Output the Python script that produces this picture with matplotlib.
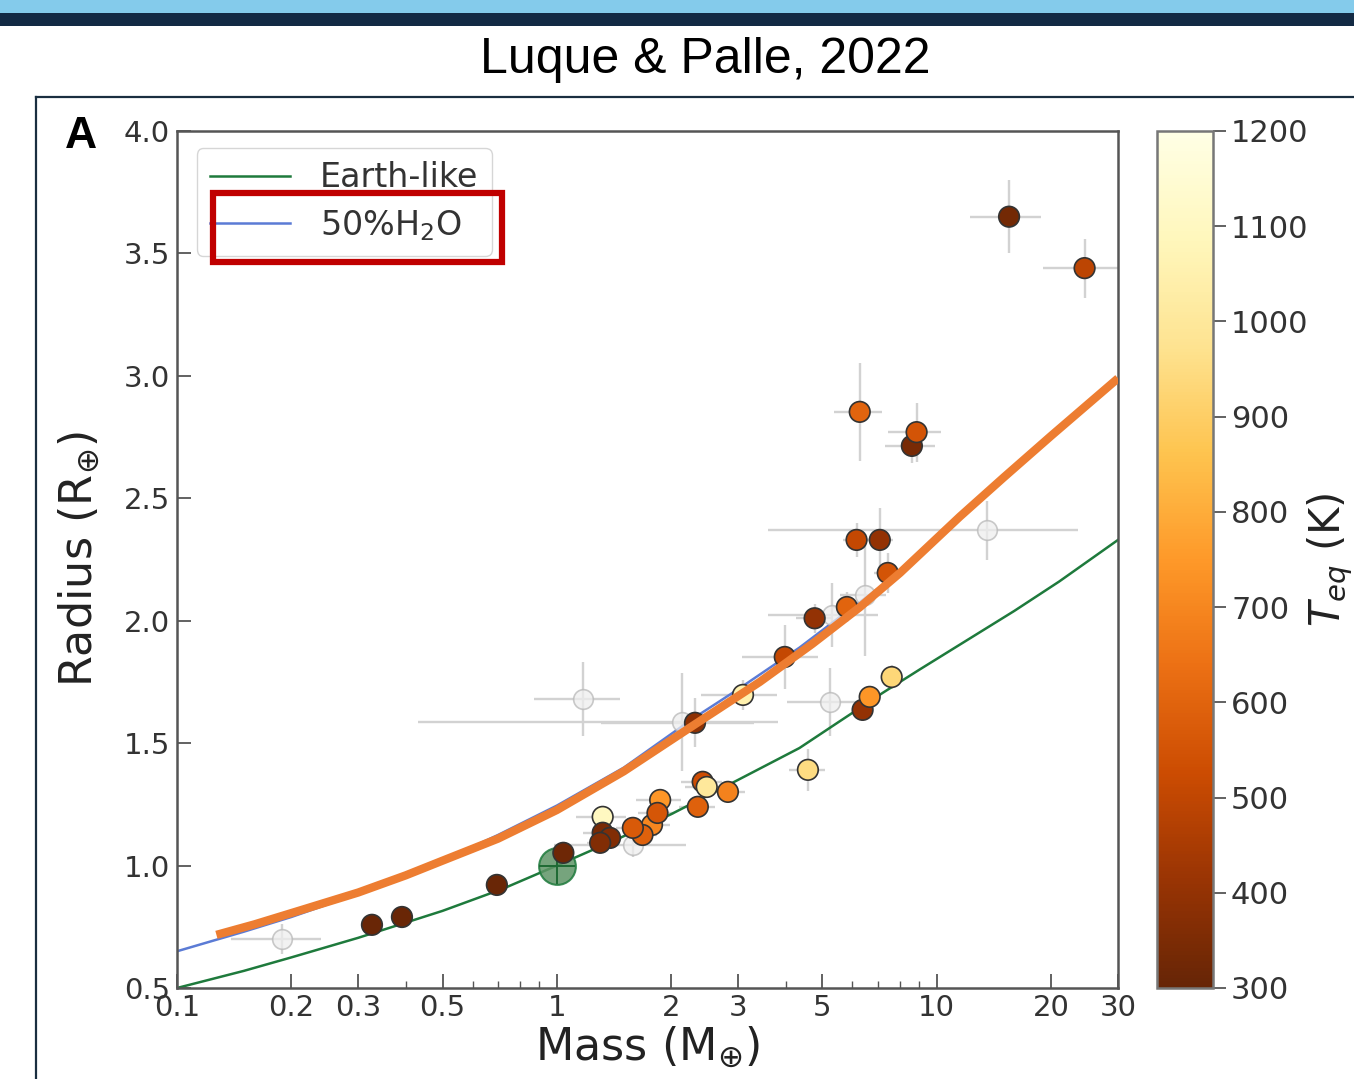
import matplotlib
matplotlib.use('Agg')
import matplotlib.pyplot as plt
import numpy as np
from matplotlib.lines import Line2D
from matplotlib.patches import Rectangle
from matplotlib.ticker import FixedLocator, NullFormatter

plt.rcParams['font.family'] = ['DejaVu Sans']
plt.rcParams['mathtext.fontset'] = 'dejavusans'

# planets with a measured Teq (mass, radius in Earth units)
mass_c = [15.5, 24.5, 6.27, 8.6, 8.85, 6.15, 7.08, 7.43, 5.80, 4.77, 3.98, 3.09,
          6.38, 6.66, 7.61, 4.58, 2.31, 2.42, 2.48, 2.82, 2.35, 1.87, 1.78, 1.84,
          1.68, 1.585, 1.32, 1.32, 1.38, 1.30, 1.04, 0.695, 0.391, 0.326]
rad_c = [3.65, 3.44, 2.853, 2.714, 2.77, 2.33, 2.33, 2.195, 2.056, 2.01, 1.852, 1.697,
         1.636, 1.689, 1.77, 1.391, 1.583, 1.342, 1.321, 1.301, 1.24, 1.268, 1.166, 1.215,
         1.125, 1.154, 1.199, 1.134, 1.113, 1.093, 1.052, 0.921, 0.79, 0.758]
teq_c = [330, 490, 600, 340, 550, 510, 400, 550, 600, 400, 510, 1050,
         400, 740, 930, 950, 390, 530, 1000, 690, 590, 740, 700, 560,
         590, 570, 1100, 340, 360, 360, 320, 310, 310, 310]
merr_c = [3.3, 5.5, 0.9, 1.3, 1.4, 0.5, 0.6, 0.6, 0.5, 0.5, 0.9, 0.7,
          0.3, 0.3, 0.4, 0.5, 1.0, 0.3, 0.3, 0.3, 0.25, 0.25, 0.2, 0.2,
          0.15, 0.15, 0.2, 0.15, 0.1, 0.1, 0.03, 0.02, 0.02, 0.02]
rerr_c = [0.15, 0.12, 0.2, 0.07, 0.12, 0.07, 0.13, 0.08, 0.06, 0.06, 0.13, 0.06,
          0.04, 0.04, 0.05, 0.085, 0.1, 0.04, 0.04, 0.04, 0.04, 0.04, 0.04, 0.04,
          0.03, 0.03, 0.04, 0.03, 0.03, 0.03, 0.02, 0.02, 0.02, 0.02]

# planets without Teq (grey)
mass_g = [13.6, 6.46, 5.29, 5.23, 1.17, 2.13, 1.585, 0.189]
rad_g = [2.37, 2.105, 2.024, 1.668, 1.68, 1.587, 1.085, 0.70]
merr_g = [10.0, 0.9, 1.7, 1.2, 0.3, 1.7, 0.6, 0.05]
rerr_g = [0.12, 0.25, 0.13, 0.14, 0.15, 0.2, 0.05, 0.06]

# composition curves
earth_m = [0.1, 0.15, 0.2, 0.3, 0.5, 0.72, 1, 1.5, 2, 3, 4.35, 5.5, 7.2, 9, 12, 16, 21, 30]
earth_r = [0.50, 0.57, 0.625, 0.705, 0.815, 0.905, 1.0, 1.12, 1.21, 1.35, 1.48, 1.585,
           1.705, 1.80, 1.92, 2.04, 2.16, 2.33]
water_m = [0.1, 0.15, 0.2, 0.3, 0.5, 0.7, 1, 1.5, 2.28, 3, 4.35, 5.5, 7.2]
water_r = [0.65, 0.73, 0.79, 0.885, 1.02, 1.125, 1.245, 1.40, 1.60, 1.72, 1.89, 2.01, 2.145]
# hand drawn orange overlay
over_m = [0.127, 0.16, 0.214, 0.3, 0.4, 0.5, 0.7, 1, 1.5, 2.3, 3.42, 4.7, 6.27, 8, 11.5,
          15, 20, 30]
over_r = [0.717, 0.76, 0.82, 0.89, 0.96, 1.02, 1.11, 1.227, 1.385, 1.575, 1.75, 1.905, 2.055,
          2.195, 2.425, 2.585, 2.755, 2.99]

xticks = [0.1, 0.2, 0.3, 0.5, 1, 2, 3, 5, 10, 20, 30]
xticklabels = ['0.1', '0.2', '0.3', '0.5', '1', '2', '3', '5', '10', '20', '30']
xminor = [0.4, 0.6, 0.7, 0.8, 0.9, 4, 6, 7, 8, 9]
yticks = [0.5, 1.0, 1.5, 2.0, 2.5, 3.0, 3.5, 4.0]
cbticks = [300, 400, 500, 600, 700, 800, 900, 1000, 1100, 1200]

W, H = 1354, 1079
fig = plt.figure(figsize=(W / 100, H / 100), dpi=100)

# slide decoration
fig.add_artist(Rectangle((0, 1 - 13 / H), 1, 13 / H, transform=fig.transFigure,
                         facecolor='#84cbeb', edgecolor='none'))
fig.add_artist(Rectangle((0, 1 - 26 / H), 1, 13 / H, transform=fig.transFigure,
                         facecolor='#132a44', edgecolor='none'))
fig.text(705 / W, 1 - 73 / H, 'Luque & Palle, 2022', ha='center', va='baseline',
         fontsize=36, family='Liberation Sans')
fig.add_artist(Line2D([36 / W, 36 / W], [0, 1 - 97 / H], transform=fig.transFigure,
                      color='#1a2e40', lw=1.6))
fig.add_artist(Line2D([36 / W, 1], [1 - 97 / H, 1 - 97 / H], transform=fig.transFigure,
                      color='#1a2e40', lw=1.6))
fig.text(81 / W, 1 - 148 / H, 'A', ha='center', va='baseline', fontsize=32,
         fontweight='bold', family='Liberation Sans')

ax = fig.add_axes([177 / W, 1 - 988 / H, 941 / W, 857 / H])
ax.set_xscale('log')
ax.set_xlim(0.1, 30)
ax.set_ylim(0.5, 4.0)

ecol = '#d2d2d2'
ax.errorbar(mass_g, rad_g, xerr=merr_g, yerr=rerr_g, fmt='none', ecolor=ecol,
            elinewidth=1.7, capsize=0, zorder=1)
ax.errorbar(mass_c, rad_c, xerr=merr_c, yerr=rerr_c, fmt='none', ecolor=ecol,
            elinewidth=1.7, capsize=0, zorder=1)

ax.plot(earth_m, earth_r, color='#1e7a3c', lw=1.8, zorder=2, label='Earth-like')
ax.plot(water_m, water_r, color='#5b7bd5', lw=1.8, zorder=2, label='50%H$_2$O')

ax.scatter(mass_g, rad_g, s=200, facecolor='#eeeeee', edgecolor='#b8b8b8',
           linewidths=1.2, alpha=0.75, zorder=3)
sc = ax.scatter(mass_c, rad_c, c=teq_c, cmap='YlOrBr_r', vmin=300, vmax=1200,
                s=220, edgecolor='#333333', linewidths=1.2, zorder=4)

# Earth
ax.scatter([1.0], [1.0], s=700, facecolor='#5e9466', edgecolor='#1e7a3c',
           linewidths=1.5, alpha=0.85, zorder=3.5)
ax.scatter([1.0], [1.0], s=700, marker='+', color='#1e6a34', linewidths=1.4, zorder=3.6)

ax.plot(over_m, over_r, color='#ed7d31', lw=6, solid_capstyle='butt',
        solid_joinstyle='round', zorder=6)

ax.xaxis.set_major_locator(FixedLocator(xticks))
ax.set_xticklabels(xticklabels)
ax.xaxis.set_minor_locator(FixedLocator(xminor))
ax.xaxis.set_minor_formatter(NullFormatter())
ax.set_yticks(yticks)
ax.set_yticklabels([f'{v:.1f}' for v in yticks])
ax.tick_params(axis='both', which='major', direction='in', length=10, width=1.3,
               color='#555555', labelsize=21, labelcolor='#333333')
ax.tick_params(axis='x', which='major', pad=4)
ax.tick_params(axis='y', which='major', pad=5)
ax.tick_params(axis='x', which='minor', direction='in', length=5, width=1.0,
               color='#555555')
for sp in ax.spines.values():
    sp.set_color('#555555')
    sp.set_linewidth(1.8)

ax.set_xlabel('Mass (M$_{\\oplus}$)', fontsize=32, color='#222222', labelpad=2)
ax.set_ylabel('Radius (R$_{\\oplus}$)', fontsize=32, color='#222222', labelpad=16)

leg = ax.legend(loc='upper left', bbox_to_anchor=(0.021, 0.98), borderaxespad=0,
                fontsize=24, handlelength=2.4, handletextpad=0.9, labelspacing=0.4,
                frameon=True, fancybox=True, edgecolor='#cccccc', borderpad=0.4)
for t in leg.get_texts():
    t.set_color('#333333')

# colorbar
cax = fig.add_axes([1157 / W, 1 - 988 / H, 56 / W, 857 / H])
cb = fig.colorbar(sc, cax=cax, ticks=cbticks)
cb.outline.set_edgecolor('#777777')
cb.outline.set_linewidth(1.8)
cax.tick_params(direction='out', length=9, width=1.3, color='#555555',
                labelsize=22, labelcolor='#333333', pad=4)
fig.text(1330 / W, 1 - 560 / H, '$T_{eq}$ (K)', rotation=90, ha='center', va='center',
         fontsize=30, color='#222222')

# red highlight box around the water legend entry
fig.add_artist(Rectangle((213 / W, 1 - 262 / H), 289 / W, 69 / H, transform=fig.transFigure,
                         facecolor='none', edgecolor='#c00000', lw=4.5))

fig.savefig('out.png', dpi=100)
